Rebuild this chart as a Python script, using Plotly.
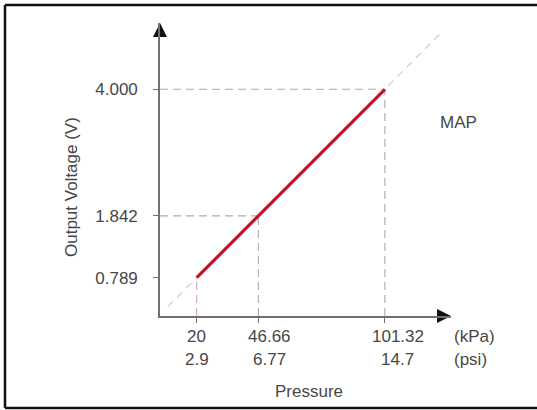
import plotly.graph_objects as go

# ---- data ----
pressure_kpa = [20, 46.66, 101.32]
pressure_psi = ["2.9", "6.77", "14.7"]
voltage = [0.789, 1.842, 4.000]
voltage_labels = ["0.789", "1.842", "4.000"]
guide_levels = [1.842, 4.000]          # horizontal guide lines
diag_p = [7.6, 125.0]                  # dashed extension of the sensor line
diag_v = [0.30, 4.94]

FONT = "Liberation Sans, Arial, sans-serif"
TXT = "#474747"
AXIS = "#707070"
GUIDE = "#ababab"
RED = "#c3122e"

x0, x1 = 4.15, 129.9
y0, y1 = 0.136, 5.13

fig = go.Figure()

# diagonal dashed extension
fig.add_trace(go.Scatter(x=diag_p, y=diag_v, mode="lines",
                         line=dict(color="#cfcfcf", width=1.3, dash="7px,6px"),
                         hoverinfo="skip", showlegend=False))

# vertical guides
for i, (p, v) in enumerate(zip(pressure_kpa, voltage)):
    fig.add_trace(go.Scatter(x=[p, p], y=[y0, v], mode="lines",
                             line=dict(color="#d3a6ad" if i == 0 else GUIDE, width=1.1, dash="8px,5px"),
                             hoverinfo="skip", showlegend=False))
# horizontal guides
for lvl in guide_levels:
    p = pressure_kpa[voltage.index(lvl)]
    fig.add_trace(go.Scatter(x=[x0, p], y=[lvl, lvl], mode="lines",
                             line=dict(color=GUIDE, width=1.1, dash="8px,5px"),
                             hoverinfo="skip", showlegend=False))

# sensor characteristic
fig.add_trace(go.Scatter(x=[pressure_kpa[0], pressure_kpa[-1]], y=[voltage[0], voltage[-1]],
                         mode="lines", line=dict(color=RED, width=3.2),
                         hoverinfo="skip", showlegend=False))

# axis arrowheads (tips at the axis ends)
fig.add_trace(go.Scatter(x=[x0, x1], y=[y1, y0], mode="markers", cliponaxis=False,
                         marker=dict(symbol=["arrow-up", "arrow-right"], size=14,
                                     color="#111111", line=dict(width=0)),
                         hoverinfo="skip", showlegend=False))

fig.update_xaxes(range=[x0, x1], showgrid=False, zeroline=False, automargin=False,
                 showline=True, linecolor=AXIS, linewidth=1.6,
                 tickmode="array", tickvals=pressure_kpa, showticklabels=False,
                 ticks="outside", ticklen=5, tickcolor=AXIS, tickwidth=1)
fig.update_yaxes(range=[y0, y1], showgrid=False, zeroline=False, automargin=False,
                 showline=True, linecolor=AXIS, linewidth=1.6,
                 tickmode="array", tickvals=voltage, ticktext=voltage_labels,
                 ticks="outside", ticklen=5, tickcolor=AXIS, tickwidth=1,
                 ticklabelstandoff=12,
                 tickfont=dict(family=FONT, size=17, color=TXT))

ann = []
xshifts = [0, 11, 13]
for p, psi, xs in zip(pressure_kpa, pressure_psi, xshifts):
    ann.append(dict(x=p, xref="x", y=0, yref="paper", text=f"{p:g}", showarrow=False,
                    xanchor="center", yanchor="middle", xshift=xs, yshift=-20,
                    font=dict(family=FONT, size=17, color=TXT)))
    ann.append(dict(x=p, xref="x", y=0, yref="paper", text=psi, showarrow=False,
                    xanchor="center", yanchor="middle", xshift=xs, yshift=-43,
                    font=dict(family=FONT, size=17, color=TXT)))
ann.append(dict(x=0, xref="x", y=0, yref="paper", text="0", showarrow=False,
                xanchor="center", yanchor="middle", yshift=-20,
                font=dict(family=FONT, size=17, color=TXT)))
ann.append(dict(x=1, xref="paper", y=0, yref="paper", text="(kPa)", showarrow=False,
                xanchor="left", yanchor="middle", xshift=1, yshift=-20,
                font=dict(family=FONT, size=17, color=TXT)))
ann.append(dict(x=1, xref="paper", y=0, yref="paper", text="(psi)", showarrow=False,
                xanchor="left", yanchor="middle", xshift=1, yshift=-43,
                font=dict(family=FONT, size=17, color=TXT)))
ann.append(dict(x=(309 - 160) / 291, xref="paper", y=(316 - 392) / 293, yref="paper",
                text="Pressure", showarrow=False, xanchor="center", yanchor="middle",
                font=dict(family=FONT, size=17, color=TXT)))
ann.append(dict(x=(71 - 160) / 291, xref="paper", y=(316 - 187) / 293, yref="paper",
                text="Output Voltage (V)", showarrow=False, textangle=-90,
                xanchor="center", yanchor="middle",
                font=dict(family=FONT, size=17, color=TXT)))
ann.append(dict(x=(458 - 160) / 291, xref="paper", y=(316 - 122) / 293, yref="paper",
                text="MAP", showarrow=False, xanchor="center", yanchor="middle",
                font=dict(family=FONT, size=17, color=TXT)))

# frame: top, left, bottom (right edge lies outside the picture)
fx0, fx1 = (5 - 160) / 291, 2.0
fy0, fy1 = (316 - 408) / 293, (316 - 5) / 293
frame = dict(color="#111111", width=2.5)
shapes = [
    dict(type="line", xref="paper", yref="paper", x0=fx0, x1=fx1, y0=fy1, y1=fy1, line=frame, layer="above"),
    dict(type="line", xref="paper", yref="paper", x0=fx0, x1=fx0, y0=fy0, y1=fy1, line=frame, layer="above"),
    dict(type="line", xref="paper", yref="paper", x0=fx0, x1=fx1, y0=fy0, y1=fy0, line=frame, layer="above"),
]

fig.update_layout(
    template="none",
    width=537, height=410, autosize=False,
    margin=dict(l=160, r=86, t=23, b=94, pad=0),
    paper_bgcolor="white", plot_bgcolor="white",
    annotations=ann,
    shapes=shapes,
    showlegend=False,
    font=dict(family=FONT, color=TXT),
)

fig.write_html("out.html", config={"displayModeBar": False, "responsive": False},
               post_script="document.body.style.margin='0';document.body.style.overflow='hidden';")
